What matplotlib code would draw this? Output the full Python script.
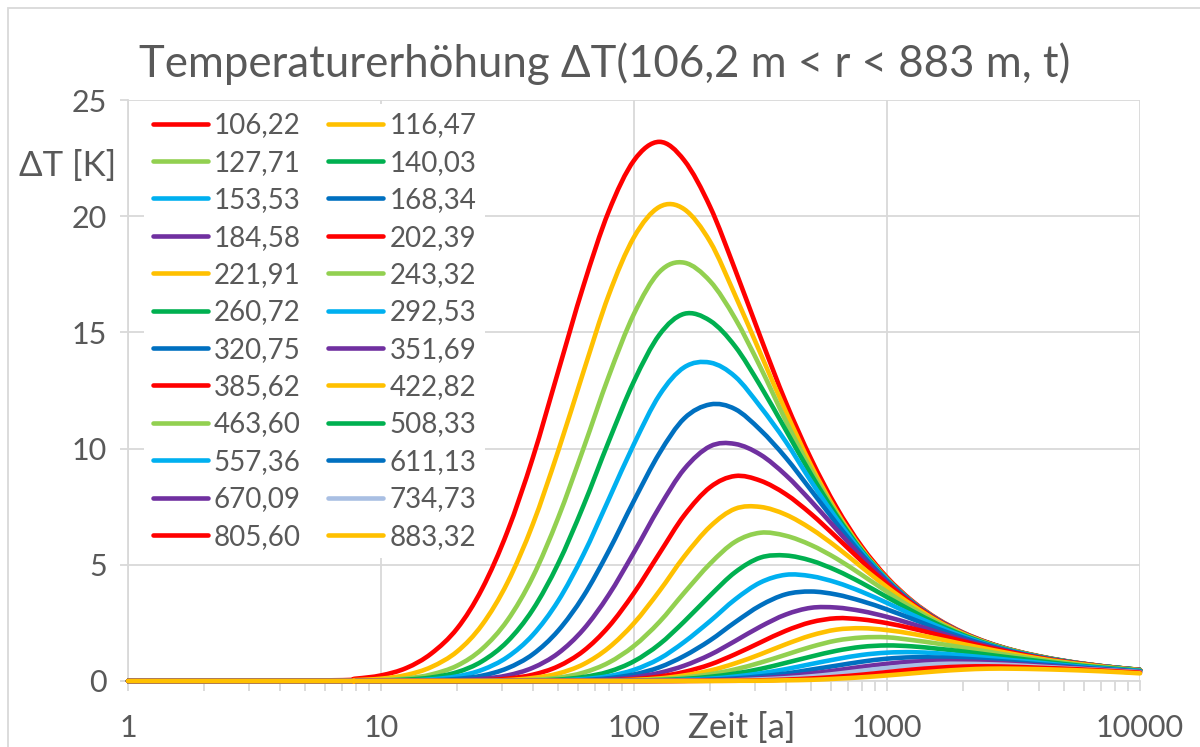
import numpy as np
import matplotlib
matplotlib.use("Agg")
import matplotlib.pyplot as plt
from matplotlib.patches import Rectangle, PathPatch
from matplotlib.path import Path
from matplotlib.lines import Line2D

plt.rcParams['font.family'] = ['Lato', 'DejaVu Sans']

# time axis (years) shared by all series
t_grid = [1, 6.31, 7.94, 10, 12.6, 15.8, 20, 25.1, 31.6, 39.8, 50.1, 63.1, 79.4, 100, 126, 158,
          200, 251, 316, 398, 501, 631, 794, 1000, 1259, 1585, 1995, 2512, 3162, 3981, 5012,
          6310, 7943, 10000]
labels = ["106,22", "116,47", "127,71", "140,03", "153,53", "168,34", "184,58", "202,39",
          "221,91", "243,32", "260,72", "292,53", "320,75", "351,69", "385,62", "422,82",
          "463,60", "508,33", "557,36", "611,13", "670,09", "734,73", "805,60", "883,32"]
colors = ["#FF0000", "#FFC000", "#92D050", "#00B050", "#00B0F0", "#0070C0", "#7030A0",
          "#FF0000", "#FFC000", "#92D050", "#00B050", "#00B0F0", "#0070C0", "#7030A0",
          "#FF0000", "#FFC000", "#92D050", "#00B050", "#00B0F0", "#0070C0", "#7030A0",
          "#A9BFE3", "#FF0000", "#FFC000"]

# temperature rise dT [K] per radius at t_grid
r01 = [0, 0.03, 0.10, 0.24, 0.56, 1.18, 2.26, 3.97, 6.43, 9.60, 13.3, 17.0, 20.2, 22.4, 23.2, 22.4, 20.4, 17.7, 14.8, 12.0, 9.56, 7.48, 5.79, 4.46, 3.44, 2.67, 2.09, 1.65, 1.32, 1.07, 0.87, 0.71, 0.58, 0.48]
r02 = [0, 0.01, 0.04, 0.10, 0.26, 0.60, 1.27, 2.42, 4.23, 6.74, 9.88, 13.3, 16.6, 19.1, 20.4, 20.3, 18.9, 16.6, 14.1, 11.6, 9.28, 7.30, 5.69, 4.40, 3.40, 2.64, 2.07, 1.64, 1.31, 1.06, 0.86, 0.71, 0.58, 0.48]
r03 = [0, 0, 0.01, 0.04, 0.11, 0.28, 0.66, 1.38, 2.61, 4.48, 7.01, 10.0, 13.1, 15.8, 17.6, 18.0, 17.2, 15.6, 13.5, 11.2, 9.09, 7.21, 5.64, 4.38, 3.39, 2.63, 2.06, 1.64, 1.31, 1.06, 0.86, 0.71, 0.58, 0.48]
r04 = [0, 0, 0.01, 0.02, 0.06, 0.15, 0.38, 0.85, 1.70, 3.07, 5.04, 7.54, 10.3, 12.9, 14.9, 15.8, 15.5, 14.4, 12.7, 10.8, 8.89, 7.13, 5.61, 4.37, 3.39, 2.63, 2.06, 1.63, 1.31, 1.06, 0.86, 0.70, 0.58, 0.48]
r05 = [0, 0, 0, 0.01, 0.02, 0.07, 0.20, 0.48, 1.03, 1.98, 3.44, 5.44, 7.81, 10.2, 12.3, 13.5, 13.7, 13.1, 11.8, 10.3, 8.59, 6.99, 5.55, 4.35, 3.38, 2.63, 2.06, 1.63, 1.30, 1.05, 0.86, 0.70, 0.58, 0.47]
r06 = [0, 0, 0, 0, 0.01, 0.03, 0.09, 0.23, 0.55, 1.15, 2.16, 3.65, 5.59, 7.76, 9.80, 11.3, 11.9, 11.7, 10.8, 9.61, 8.21, 6.79, 5.46, 4.31, 3.37, 2.63, 2.06, 1.63, 1.30, 1.05, 0.86, 0.70, 0.58, 0.47]
r07 = [0, 0, 0, 0, 0, 0.01, 0.03, 0.09, 0.24, 0.57, 1.19, 2.22, 3.70, 5.54, 7.48, 9.12, 10.1, 10.2, 9.74, 8.86, 7.74, 6.53, 5.34, 4.26, 3.35, 2.62, 2.06, 1.63, 1.30, 1.05, 0.85, 0.70, 0.57, 0.47]
r08 = [0, 0, 0, 0, 0, 0, 0.01, 0.03, 0.10, 0.27, 0.63, 1.29, 2.34, 3.79, 5.49, 7.13, 8.34, 8.82, 8.62, 8.04, 7.19, 6.19, 5.16, 4.18, 3.32, 2.61, 2.05, 1.63, 1.30, 1.05, 0.85, 0.70, 0.57, 0.47]
r09 = [0, 0, 0, 0, 0, 0, 0, 0.01, 0.04, 0.13, 0.32, 0.72, 1.43, 2.49, 3.87, 5.36, 6.65, 7.41, 7.49, 7.16, 6.55, 5.77, 4.90, 4.04, 3.26, 2.58, 2.04, 1.62, 1.30, 1.05, 0.85, 0.70, 0.57, 0.47]
r10 = [0, 0, 0, 0, 0, 0, 0, 0, 0.02, 0.05, 0.14, 0.36, 0.79, 1.51, 2.54, 3.80, 5.05, 5.99, 6.38, 6.25, 5.85, 5.27, 4.57, 3.84, 3.14, 2.53, 2.01, 1.61, 1.29, 1.04, 0.85, 0.69, 0.57, 0.47]
r11 = [0, 0, 0, 0, 0, 0, 0, 0, 0, 0.02, 0.06, 0.17, 0.40, 0.85, 1.58, 2.56, 3.68, 4.68, 5.31, 5.40, 5.18, 4.76, 4.22, 3.61, 3.01, 2.45, 1.98, 1.59, 1.28, 1.04, 0.85, 0.69, 0.57, 0.47]
r12 = [0, 0, 0, 0, 0, 0, 0, 0, 0, 0.01, 0.03, 0.08, 0.21, 0.48, 0.96, 1.68, 2.58, 3.51, 4.24, 4.57, 4.51, 4.24, 3.84, 3.36, 2.85, 2.36, 1.93, 1.56, 1.27, 1.03, 0.84, 0.69, 0.57, 0.47]
r13 = [0, 0, 0, 0, 0, 0, 0, 0, 0, 0, 0.01, 0.04, 0.12, 0.28, 0.59, 1.08, 1.75, 2.53, 3.25, 3.73, 3.85, 3.72, 3.44, 3.08, 2.67, 2.25, 1.87, 1.53, 1.25, 1.02, 0.84, 0.69, 0.57, 0.47]
r14 = [0, 0, 0, 0, 0, 0, 0, 0, 0, 0, 0.01, 0.02, 0.06, 0.16, 0.35, 0.66, 1.13, 1.72, 2.34, 2.86, 3.15, 3.16, 3.01, 2.76, 2.45, 2.11, 1.78, 1.49, 1.23, 1.01, 0.83, 0.69, 0.56, 0.47]
r15 = [0, 0, 0, 0, 0, 0, 0, 0, 0, 0, 0, 0.01, 0.03, 0.08, 0.19, 0.39, 0.71, 1.15, 1.66, 2.16, 2.53, 2.70, 2.65, 2.49, 2.26, 1.99, 1.71, 1.44, 1.21, 1.00, 0.83, 0.69, 0.56, 0.47]
r16 = [0, 0, 0, 0, 0, 0, 0, 0, 0, 0, 0, 0.01, 0.02, 0.05, 0.11, 0.24, 0.45, 0.76, 1.15, 1.58, 1.96, 2.21, 2.27, 2.19, 2.03, 1.82, 1.59, 1.37, 1.16, 0.97, 0.81, 0.68, 0.56, 0.46]
r17 = [0, 0, 0, 0, 0, 0, 0, 0, 0, 0, 0, 0, 0.01, 0.03, 0.07, 0.15, 0.29, 0.50, 0.79, 1.13, 1.47, 1.74, 1.87, 1.88, 1.76, 1.61, 1.44, 1.26, 1.08, 0.92, 0.78, 0.65, 0.55, 0.46]
r18 = [0, 0, 0, 0, 0, 0, 0, 0, 0, 0, 0, 0, 0.01, 0.02, 0.04, 0.09, 0.18, 0.32, 0.52, 0.78, 1.05, 1.30, 1.47, 1.53, 1.49, 1.39, 1.27, 1.13, 0.99, 0.86, 0.73, 0.62, 0.53, 0.44]
r19 = [0, 0, 0, 0, 0, 0, 0, 0, 0, 0, 0, 0, 0, 0.01, 0.02, 0.05, 0.10, 0.19, 0.33, 0.51, 0.73, 0.94, 1.12, 1.22, 1.24, 1.19, 1.10, 1.00, 0.89, 0.79, 0.68, 0.59, 0.50, 0.43]
r20 = [0, 0, 0, 0, 0, 0, 0, 0, 0, 0, 0, 0, 0, 0, 0.01, 0.03, 0.06, 0.11, 0.20, 0.32, 0.49, 0.66, 0.83, 0.96, 1.02, 1.01, 0.96, 0.89, 0.81, 0.72, 0.64, 0.55, 0.48, 0.41]
r21 = [0, 0, 0, 0, 0, 0, 0, 0, 0, 0, 0, 0, 0, 0, 0, 0.01, 0.03, 0.06, 0.12, 0.20, 0.32, 0.46, 0.61, 0.74, 0.83, 0.86, 0.84, 0.80, 0.73, 0.67, 0.59, 0.52, 0.46, 0.39]
r22 = [0, 0, 0, 0, 0, 0, 0, 0, 0, 0, 0, 0, 0, 0, 0, 0.01, 0.01, 0.03, 0.07, 0.12, 0.20, 0.31, 0.44, 0.56, 0.66, 0.73, 0.74, 0.72, 0.68, 0.62, 0.56, 0.50, 0.44, 0.38]
r23 = [0, 0, 0, 0, 0, 0, 0, 0, 0, 0, 0, 0, 0, 0, 0, 0, 0.01, 0.01, 0.03, 0.06, 0.11, 0.18, 0.27, 0.38, 0.49, 0.57, 0.62, 0.63, 0.61, 0.57, 0.53, 0.48, 0.42, 0.36]
r24 = [0, 0, 0, 0, 0, 0, 0, 0, 0, 0, 0, 0, 0, 0, 0, 0, 0, 0.01, 0.01, 0.03, 0.05, 0.10, 0.16, 0.24, 0.33, 0.42, 0.49, 0.53, 0.53, 0.51, 0.48, 0.44, 0.39, 0.33]
series = [r01, r02, r03, r04, r05, r06, r07, r08, r09, r10, r11, r12,
          r13, r14, r15, r16, r17, r18, r19, r20, r21, r22, r23, r24]


def smooth_path(xs, ys):
    """Smoothed line (like Excel's 'smoothed line') through the data points,
    built as cubic Bezier segments in log-x / linear-y space."""
    X = np.log10(np.asarray(xs, float))
    Y = np.asarray(ys, float)
    n = len(X)
    verts = [(X[0], Y[0])]
    codes = [Path.MOVETO]
    for i in range(n - 1):
        i0 = max(i - 1, 0)
        i3 = min(i + 2, n - 1)
        c1 = (X[i] + (X[i + 1] - X[i0]) / 6, Y[i] + (Y[i + 1] - Y[i0]) / 6)
        c2 = (X[i + 1] - (X[i3] - X[i]) / 6, Y[i + 1] - (Y[i3] - Y[i]) / 6)
        verts += [c1, c2, (X[i + 1], Y[i + 1])]
        codes += [Path.CURVE4] * 3
    v = np.array(verts)
    v[:, 0] = 10 ** v[:, 0]
    return Path(v, codes)


W, Hpx = 1200, 747
fig = plt.figure(figsize=(12, 7.47), dpi=100)
ax = fig.add_axes([128 / W, 1 - 681 / Hpx, (1140 - 128) / W, (681 - 100) / Hpx])
gc = '#d9d9d9'
tc = '#595959'

ax.set_xscale('log')
ax.set_xlim(1, 10000)
ax.set_ylim(0, 25)

handles = []
for k, ser in enumerate(series):
    pp = PathPatch(smooth_path(t_grid, ser), fill=False, ec=colors[k], lw=3.3,
                   capstyle='round', joinstyle='round', zorder=3 + k * 0.01, clip_on=False)
    ax.add_patch(pp)
    handles.append(Line2D([], [], color=colors[k], lw=3.3, solid_capstyle='round'))

ax.set_yticks([0, 5, 10, 15, 20, 25])
ax.set_xticks([1, 10, 100, 1000, 10000])
ax.set_xticklabels(["1", "10", "100", "1000", "10000"])
ax.xaxis.set_minor_locator(matplotlib.ticker.LogLocator(base=10, subs=np.arange(2, 10)))
ax.xaxis.set_minor_formatter(matplotlib.ticker.NullFormatter())
ax.grid(True, axis='y', color=gc, lw=1.3, zorder=0)
ax.grid(True, axis='x', which='major', color=gc, lw=1.3, zorder=0)
for s in ['top', 'right']:
    ax.spines[s].set_visible(False)
for s in ['left', 'bottom']:
    ax.spines[s].set_color(gc)
    ax.spines[s].set_linewidth(1.3)
ax.tick_params(axis='x', which='both', direction='out', length=7, width=1.3, color=gc,
               labelsize=22, labelcolor=tc, pad=17)
ax.tick_params(axis='y', which='both', direction='out', length=6, width=1.3, color=gc,
               labelsize=22, labelcolor=tc, pad=9)
ax.set_axisbelow(True)

order = list(range(0, 24, 2)) + list(range(1, 24, 2))
leg = ax.legend([handles[i] for i in order], [labels[i] for i in order], ncol=2,
                loc='upper left', bbox_to_anchor=(0.016, 0.993), fontsize=20,
                frameon=True, facecolor='white', edgecolor='none', framealpha=1,
                handlelength=1.98, handletextpad=0.22, columnspacing=1.0,
                labelspacing=0.41, borderpad=0.3, borderaxespad=0)
for txt in leg.get_texts():
    txt.set_color(tc)
leg.set_zorder(10)

fig.text(605 / W, 1 - 64 / Hpx, "Temperaturerhöhung ΔT(106,2 m < r < 883 m, t)",
         ha='center', va='center', fontsize=31.5, color=tc)
fig.text(19 / W, 1 - 166 / Hpx, "ΔT [K]", ha='left', va='center', fontsize=25, color=tc)
fig.text(742 / W, 1 - 728 / Hpx, "Zeit [a]", ha='center', va='center', fontsize=25, color=tc)

fig.patches.append(Rectangle((8 / W, -0.2), 2.0, 1.2 - 8 / Hpx, transform=fig.transFigure,
                             fill=False, ec=gc, lw=1.3))

fig.savefig("out.png", dpi=100)
